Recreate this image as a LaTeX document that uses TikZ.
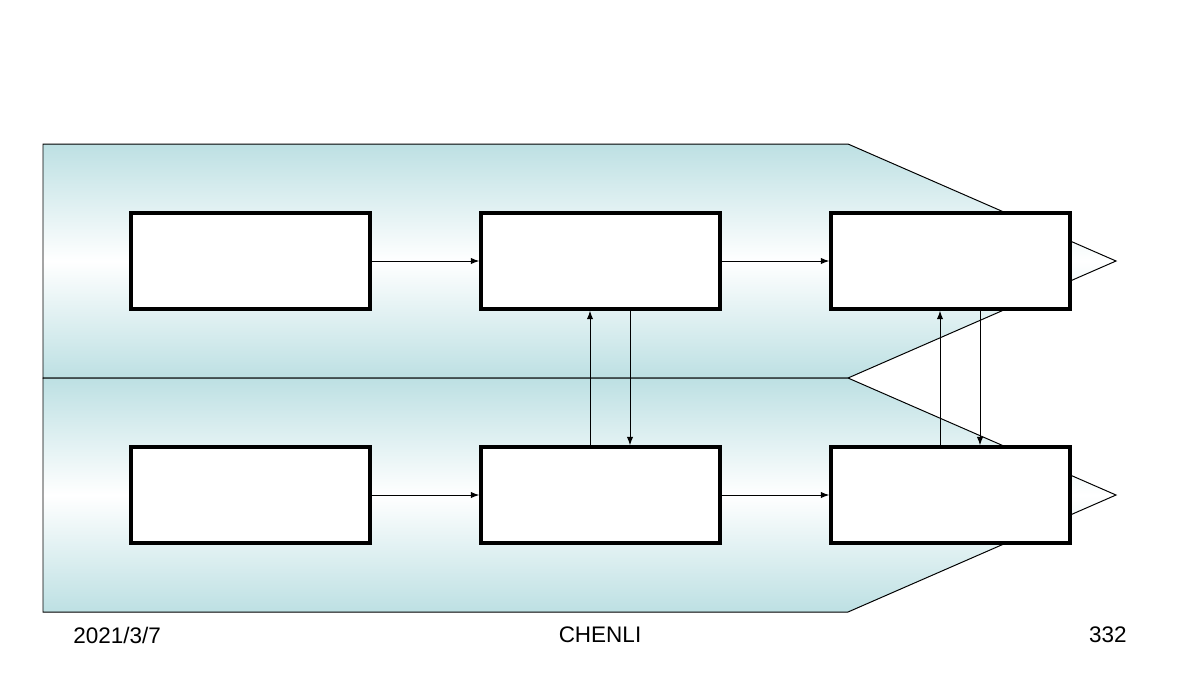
\documentclass[tikz,border=0pt]{standalone}
\usepackage{fontspec}
\setmainfont{Liberation Sans}
\usetikzlibrary{arrows.meta, calc}

\definecolor{bandteal}{RGB}{189,224,227}

\begin{document}
\begin{tikzpicture}[x = 0.025cm, y = -0.025cm, > = {Latex[length = 6pt, width = 4.5pt]},
	band/.style = {draw = black, line width = 0.7pt, top color = bandteal, bottom color = bandteal, middle color = white},
	blok/.style = {draw = black, line width = 2.4pt, fill = white, minimum width = 5.975cm, minimum height = 2.4cm, inner sep = 0pt},
	flow/.style = {->, line width = 0.7pt},
	foot/.style = {font = \fontsize{16}{19}\selectfont, inner sep = 0pt}]

	% Page
	
	\useasboundingbox [fill = white] (0, 0) rectangle (1200, 680);
	
	% Bands
	
	\draw [band] (43, 144) -- (848, 144) -- (1116, 261) -- (848, 378) -- (43, 378) -- cycle;
	\draw [band] (43, 378) -- (848, 378) -- (1116, 495) -- (848, 612) -- (43, 612) -- cycle;
	
	% Boxes
	
	\foreach \n/\x in {1/250.5, 2/600.5, 3/950.5}
	{
		\node [blok] (t\n) at (\x, 261) {};
		\node [blok] (b\n) at (\x, 495) {};
	}
	
	% Arrows
	
	\foreach \a/\b in {1/2, 2/3}
	{
		\draw [flow] (t\a.east) -- (t\b.west);
		\draw [flow] (b\a.east) -- (b\b.west);
	}
	
	\foreach \n in {2, 3}
	{
		\draw [flow] ($(b\n.north) + (-10.5, 0)$) -- ($(t\n.south) + (-10.5, 0)$);
		\draw [flow] ($(t\n.south) + (29.5, 0)$) -- ($(b\n.north) + (29.5, 0)$);
	}
	
	% Footer
	
	\node [foot, anchor = west] (date) at (73, 635) {2021/3/7};
	\node [foot] (name) at (600, 635) {CHENLI};
	\node [foot, anchor = east] (page) at (1127, 635) {332};

\end{tikzpicture}
\end{document}
